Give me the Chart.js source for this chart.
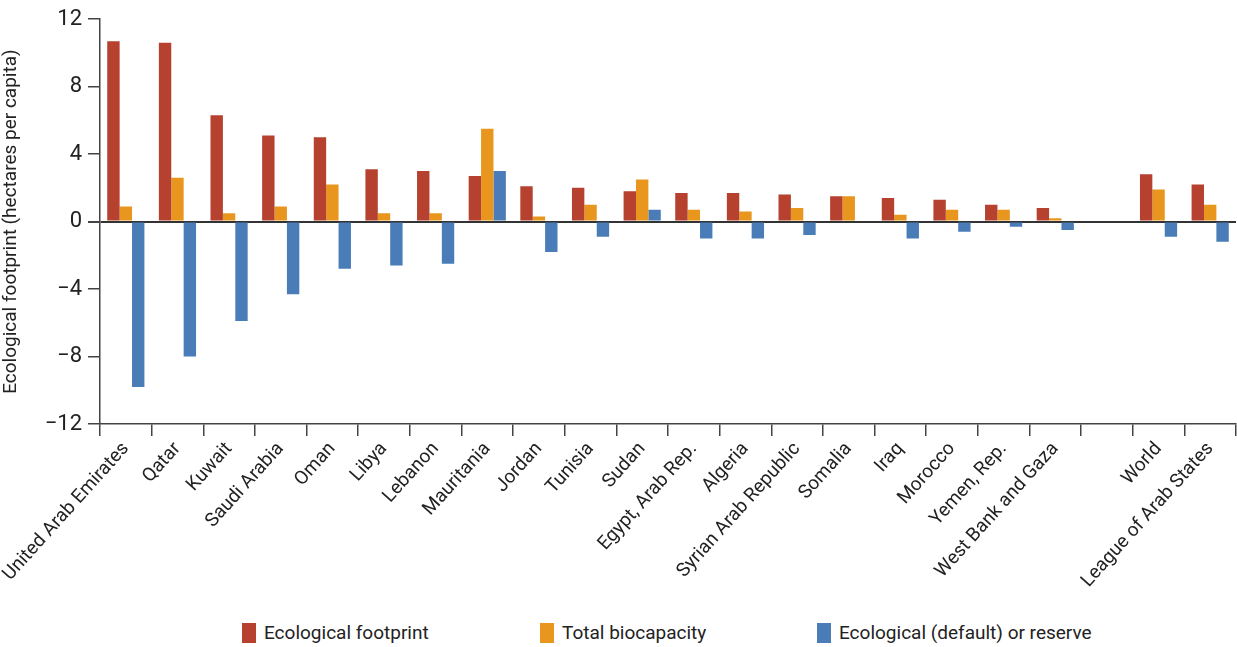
<!DOCTYPE html>
<html>
<head>
<meta charset="utf-8">
<script src="https://cdn.jsdelivr.net/npm/chart.js@4.4.1/dist/chart.umd.min.js"></script>
<style>
  html, body { margin: 0; padding: 0; background: #fff; }
  #wrap { position: relative; width: 1237px; height: 647px; overflow: hidden; }
  #cwrap { position: absolute; left: 0; top: 0; width: 1237px; height: 605px; }
  .leg { position: absolute; top: 621px; display: flex; align-items: center;
         font-family: Roboto, 'Liberation Sans', sans-serif;
         font-size: 19px; color: #222; }
  .sw { width: 14px; height: 20px; margin-right: 8px; display: inline-block; }
</style>
</head>
<body>
<div id="wrap">
  <div id="cwrap"><canvas id="c"></canvas></div>
  <div class="leg" style="left:242px"><span class="sw" style="background:#B5412E"></span>Ecological footprint</div>
  <div class="leg" style="left:540px"><span class="sw" style="background:#E8961E"></span>Total biocapacity</div>
  <div class="leg" style="left:817px"><span class="sw" style="background:#4A7DB8"></span>Ecological (default) or reserve</div>
</div>
<script>
const categories = ["United Arab Emirates","Qatar","Kuwait","Saudi Arabia","Oman","Libya","Lebanon","Mauritania","Jordan","Tunisia","Sudan","Egypt, Arab Rep.","Algeria","Syrian Arab Republic","Somalia","Iraq","Morocco","Yemen, Rep.","West Bank and Gaza","","World","League of Arab States"];
const footprint   = [10.7, 10.6, 6.3, 5.1, 5.0, 3.1, 3.0, 2.7, 2.1, 2.0, 1.8, 1.7, 1.7, 1.6, 1.5, 1.4, 1.3, 1.0, 0.8, null, 2.8, 2.2];
const biocapacity = [0.9, 2.6, 0.5, 0.9, 2.2, 0.5, 0.5, 5.5, 0.3, 1.0, 2.5, 0.7, 0.6, 0.8, 1.5, 0.4, 0.7, 0.7, 0.2, null, 1.9, 1.0];
const reserve     = [-9.8, -8.0, -5.9, -4.3, -2.8, -2.6, -2.5, 3.0, -1.8, -0.9, 0.7, -1.0, -1.0, -0.8, 0, -1.0, -0.6, -0.3, -0.5, null, -0.9, -1.2];
const seriesNames = ["Ecological footprint","Total biocapacity","Ecological (default) or reserve"];
const yTicks = [-12, -8, -4, 0, 4, 8, 12];

const FONT = "Roboto, 'Liberation Sans', sans-serif";
const TXT = '#222';
const AX = '#444';

new Chart(document.getElementById('c'), {
  type: 'bar',
  data: {
    labels: categories,
    datasets: [
      { label: seriesNames[0], data: footprint,   backgroundColor: '#B5412E' },
      { label: seriesNames[1], data: biocapacity, backgroundColor: '#E8961E' },
      { label: seriesNames[2], data: reserve,     backgroundColor: '#4A7DB8' }
    ]
  },
  options: {
    responsive: true,
    maintainAspectRatio: false,
    animation: false,
    datasets: { bar: { categoryPercentage: 0.72, barPercentage: 1.0 } },
    layout: { padding: { left: 0, right: 1, top: 14, bottom: 0 } },
    plugins: { legend: { display: false }, tooltip: { enabled: false } },
    scales: {
      x: {
        grid: { offset: true, drawOnChartArea: false, tickLength: 12, color: AX, lineWidth: 1.5 },
        border: { display: true, color: AX, width: 1.5 },
        ticks: { color: TXT, font: { family: FONT, size: 19 }, minRotation: 48, maxRotation: 48, autoSkip: false, padding: 2 },
        afterFit: (s) => { s.height = 605 - 424; }
      },
      y: {
        min: -12, max: 12,
        afterBuildTicks: (s) => { s.ticks = yTicks.map(v => ({ value: v })); },
        grid: {
          drawOnChartArea: true,
          tickLength: 12,
          color: (ctx) => (ctx.tick && ctx.tick.value === 0) ? '#333' : 'rgba(0,0,0,0)',
          lineWidth: (ctx) => (ctx.tick && ctx.tick.value === 0) ? 2 : 1.5,
          tickColor: AX
        },
        border: { display: true, color: AX, width: 1.5 },
        ticks: {
          color: TXT, font: { family: FONT, size: 22 }, padding: 6,
          callback: (v) => v < 0 ? '\u2212' + Math.abs(v) : String(v)
        },
        title: {
          display: true, text: 'Ecological footprint (hectares per capita)',
          color: TXT, font: { family: FONT, size: 19 }, padding: { top: 0, bottom: 4 }
        },
        afterFit: (s) => { s.width = 100; }
      }
    }
  }
});
</script>
</body>
</html>
